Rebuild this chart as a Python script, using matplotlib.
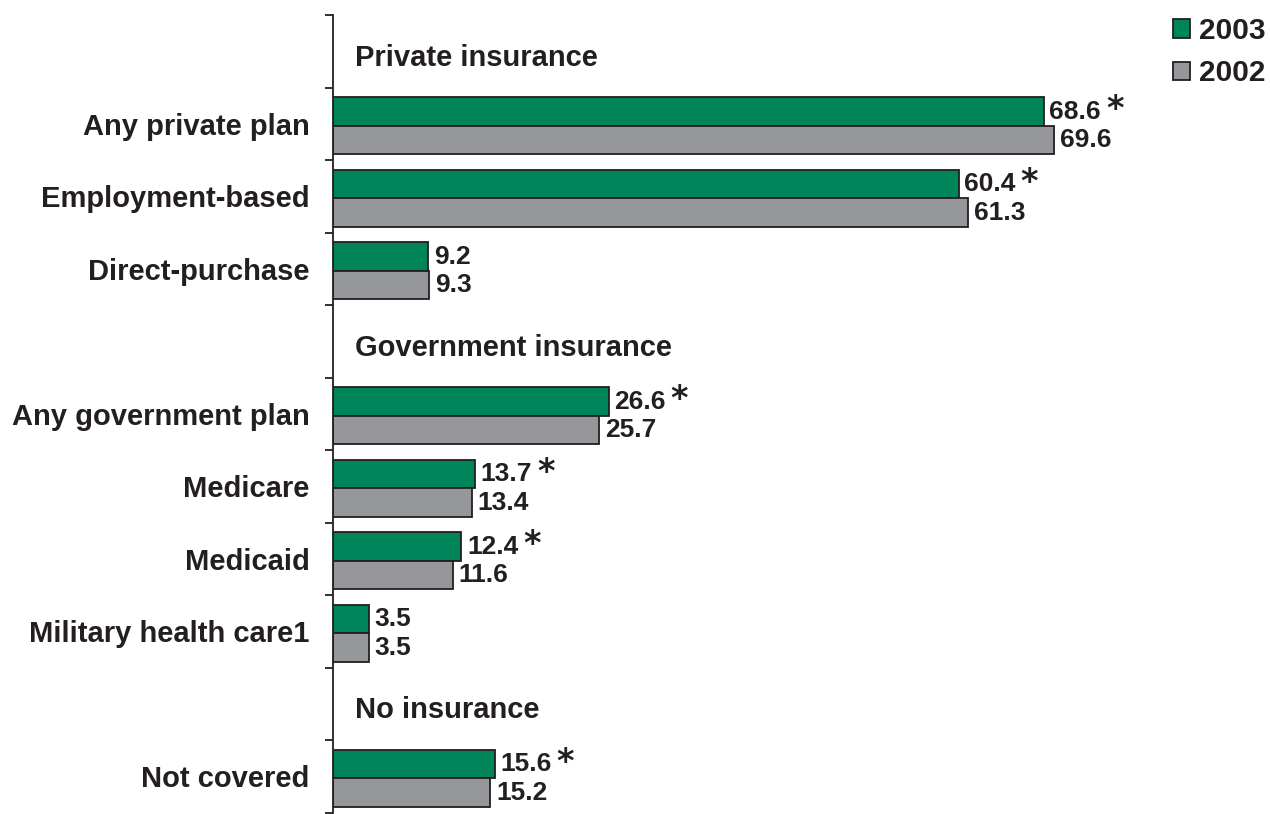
import matplotlib
matplotlib.use("Agg")
import matplotlib.pyplot as plt
from matplotlib.patches import Patch

# ---- data ----
section_titles = ["Private insurance", "Government insurance", "No insurance"]
categories = ["Any private plan", "Employment-based", "Direct-purchase",
              "Any government plan", "Medicare", "Medicaid",
              "Military health care1", "Not covered"]
category_section = [0, 0, 0, 1, 1, 1, 1, 2]
values_2003 = [68.6, 60.4, 9.2, 26.6, 13.7, 12.4, 3.5, 15.6]
values_2002 = [69.6, 61.3, 9.3, 25.7, 13.4, 11.6, 3.5, 15.2]
significant = [True, True, False, True, True, True, False, True]
series_names = ["2003", "2002"]

# ---- style ----
GREEN = "#00845A"
GRAY = "#96979B"
DARK = "#231F20"
FONT = "Liberation Sans"
plt.rcParams['font.family'] = [FONT, 'DejaVu Sans']
plt.rcParams['font.weight'] = 'bold'

fig = plt.figure(figsize=(12.70, 8.14), dpi=100)
W, H = 1270, 814
ax_left, ax_top, ax_bottom, ax_right = 333, 15, 812.5, 1270
ax = fig.add_axes([ax_left / W, 1 - ax_bottom / H, (ax_right - ax_left) / W, (ax_bottom - ax_top) / H])

# slot layout: header slot before each new section
slots_cat = []
slots_head = []
slot = 0
prev = None
for sec in category_section:
    if sec != prev:
        slots_head.append(slot)
        slot += 1
        prev = sec
    slots_cat.append(slot)
    slot += 1
n_slots = slot

px_per_unit = 10.36
xmax = (ax_right - ax_left) / px_per_unit
ax.set_xlim(0, xmax)
ax.set_ylim(n_slots - 0.5, -0.5)

bh = 0.394
off = 0.03
y_g = [s + off - bh / 2 for s in slots_cat]
y_p = [s + off + bh / 2 for s in slots_cat]
ax.barh(y_g, values_2003, height=bh, color=GREEN, edgecolor=DARK, linewidth=1.3, label=series_names[0])
ax.barh(y_p, values_2002, height=bh, color=GRAY, edgecolor=DARK, linewidth=1.3, label=series_names[1])

fs_val = 19
fs_lab = 21
num_texts = []
for yg, yp, v3, v2, sig in zip(y_g, y_p, values_2003, values_2002, significant):
    t = ax.annotate(f"{v3:.1f}", xy=(v3, yg), xytext=(4, 0), textcoords="offset points",
                    ha="left", va="center", fontsize=fs_val, fontweight="bold", color=DARK)
    num_texts.append((t, sig))
    ax.annotate(f"{v2:.1f}", xy=(v2, yp), xytext=(4, 0), textcoords="offset points",
                ha="left", va="center", fontsize=fs_val, fontweight="bold", color=DARK)

for s, title in zip(slots_head, section_titles):
    ax.annotate(title, xy=(0, s + 0.09), xytext=(16, 0), textcoords="offset points",
                ha="left", va="center", fontsize=fs_lab, fontweight="bold", color=DARK)

ax.set_yticks(slots_cat)
ax.set_yticklabels(categories, fontsize=fs_lab, fontweight="bold", color=DARK)
ax.tick_params(axis="y", which="major", length=0, pad=17)
ax.set_yticks([i - 0.5 for i in range(n_slots + 1)], minor=True)
ax.tick_params(axis="y", which="minor", length=6, width=1.3, color=DARK, direction="out")
ax.set_xticks([])
for sp in ["top", "right", "bottom"]:
    ax.spines[sp].set_visible(False)
ax.spines["left"].set_color(DARK)
ax.spines["left"].set_linewidth(1.3)

handles = [Patch(facecolor=GREEN, edgecolor=DARK, linewidth=1.3),
           Patch(facecolor=GRAY, edgecolor=DARK, linewidth=1.3)]
leg = fig.legend(handles, series_names, loc="upper right",
                 bbox_to_anchor=(1266 / W, 1 - 17 / H), frameon=False,
                 prop={"family": FONT, "weight": "bold", "size": 21.5},
                 handlelength=0.58, handleheight=0.58, handletextpad=0.3,
                 labelspacing=0.48, borderpad=0, borderaxespad=0)
for t in leg.get_texts():
    t.set_color(DARK)

# significance asterisks placed right after the 2003 numbers
fig.canvas.draw()
renderer = fig.canvas.get_renderer()
for t, sig in num_texts:
    if not sig:
        continue
    bb = t.get_window_extent(renderer)
    x_px = bb.x1 + 5
    y_px = (bb.y0 + bb.y1) / 2 + 2
    xd, yd = ax.transData.inverted().transform((x_px, y_px))
    ax.text(xd, yd, "*", ha="left", va="center", fontsize=24, fontweight="bold",
            color=DARK, family="DejaVu Sans")

fig.savefig("out.png", dpi=100)
